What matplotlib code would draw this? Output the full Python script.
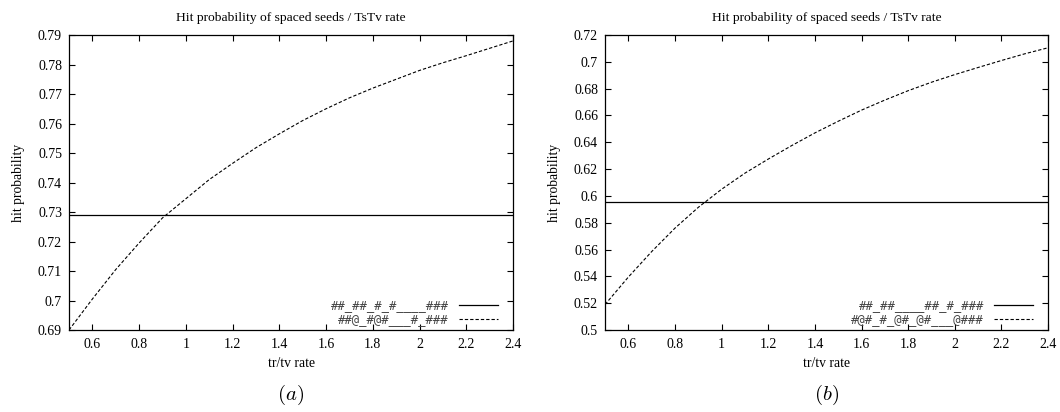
import matplotlib
matplotlib.use("Agg")
import matplotlib.pyplot as plt
import numpy as np
from matplotlib.ticker import FuncFormatter

plt.rcParams['font.family'] = ['Liberation Serif', 'DejaVu Serif']
plt.rcParams['mathtext.fontset'] = 'cm'

rate = [0.5, 0.6, 0.7, 0.8, 0.9, 1.0, 1.1, 1.2, 1.3, 1.4,
        1.5, 1.6, 1.7, 1.8, 1.9, 2.0, 2.1, 2.2, 2.3, 2.4]

# panel (a)
seeds_a = ["##_##_#_#____###", "##@_#@#___#_###"]
flat_a = 0.729
curve_a = [0.6900, 0.7005, 0.7105, 0.7195, 0.7280, 0.7345, 0.7410, 0.7465, 0.7518, 0.7565,
           0.7610, 0.7650, 0.7687, 0.7720, 0.7750, 0.7780, 0.7806, 0.7830, 0.7855, 0.7880]

# panel (b)
seeds_b = ["##_##____##_#_###", "#@#_#_@#_@#___@###"]
flat_b = 0.5955
curve_b = [0.5190, 0.5395, 0.5585, 0.5760, 0.5915, 0.6050, 0.6170, 0.6275, 0.6375, 0.6470,
           0.6557, 0.6640, 0.6715, 0.6785, 0.6848, 0.6905, 0.6958, 0.7010, 0.7060, 0.7105]

panels = [
    ("a", seeds_a, flat_a, curve_a, (0.69, 0.79), np.arange(0.69, 0.7901, 0.01)),
    ("b", seeds_b, flat_b, curve_b, (0.5, 0.72), np.arange(0.5, 0.7201, 0.02)),
]
axes_pos = [[0.0651, 0.199, 0.4189, 0.716], [0.5708, 0.199, 0.418, 0.716]]

fig = plt.figure(figsize=(10.6, 4.12), dpi=100)
fmt = FuncFormatter(lambda v, p: '%g' % round(v, 3))

for pos, (tag, seeds, flat, curve, ylim, yticks) in zip(axes_pos, panels):
    ax = fig.add_axes(pos)
    ax.plot([rate[0], rate[-1]], [flat, flat], color='black', lw=0.9, label=seeds[0])
    ax.plot(rate, curve, color='black', lw=0.8, dashes=(3, 1.8), label=seeds[1])
    ax.set_xlim(0.5, 2.4)
    ax.set_ylim(*ylim)
    ax.set_xticks(np.arange(0.6, 2.401, 0.2))
    ax.set_yticks(yticks)
    ax.xaxis.set_major_formatter(fmt)
    ax.yaxis.set_major_formatter(fmt)
    ax.tick_params(direction='in', top=True, right=True, length=4, width=0.8, labelsize=10)
    ax.tick_params(axis='x', pad=6)
    ax.tick_params(axis='y', pad=5)
    for s in ax.spines.values():
        s.set_linewidth(0.9)
    ax.set_title("Hit probability of spaced seeds / TsTv rate", fontsize=9.7, pad=10)
    ax.set_xlabel("tr/tv rate", fontsize=9.8, labelpad=4)
    ax.set_ylabel("hit probability", fontsize=9.8, labelpad=9)
    leg = ax.legend(loc='lower right', bbox_to_anchor=(0.966, 0.012), frameon=False,
                    markerfirst=False, handlelength=3.2, handletextpad=0.8,
                    labelspacing=0.1, borderpad=0, borderaxespad=0,
                    prop={'family': 'DejaVu Sans Mono', 'size': 8.8})
    for t in leg.get_texts():
        t.set_color('#444444')
    ax.text(0.5, -0.22, "$(%s)$" % tag, transform=ax.transAxes, ha='center',
            va='center', fontsize=15)

fig.savefig("out.png", dpi=100)
